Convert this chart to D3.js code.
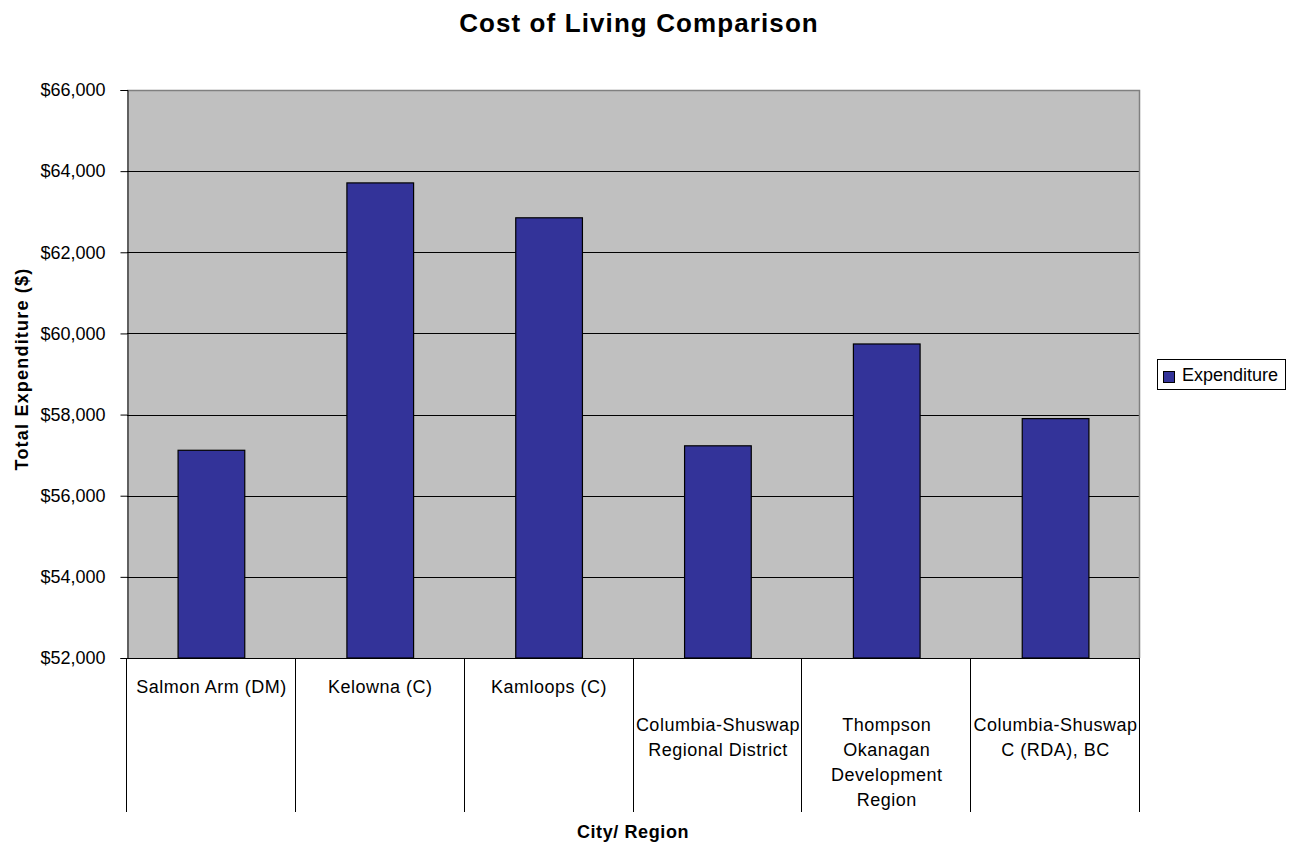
<!DOCTYPE html>
<html>
<head>
<meta charset="utf-8">
<script src="https://cdn.jsdelivr.net/npm/d3@7"></script>
<style>
  html, body { margin: 0; padding: 0; background: #fff; }
  svg { display: block; font-family: "Liberation Sans", Arial, sans-serif; }
</style>
</head>
<body>
<svg id="chart" width="1297" height="843"></svg>
<script>
const categories = [
  ["Salmon Arm (DM)"],
  ["Kelowna (C)"],
  ["Kamloops (C)"],
  ["Columbia-Shuswap", "Regional District"],
  ["Thompson", "Okanagan", "Development", "Region"],
  ["Columbia-Shuswap", "C (RDA), BC"]
];
const seriesName = "Expenditure";
const expenditure = [57120, 63710, 62850, 57230, 59740, 57900];
const yTicks = [52000, 54000, 56000, 58000, 60000, 62000, 64000, 66000];

const svg = d3.select("#chart");
const plot = { left: 127, top: 90, right: 1140, bottom: 658 };
const catBottom = 812;

const keys = categories.map((c, i) => i);
const x = d3.scaleBand().domain(keys).range([plot.left, plot.right]).paddingInner(0).paddingOuter(0);
const y = d3.scaleLinear().domain([52000, 66000]).range([plot.bottom, plot.top]);

// plot background
svg.append("rect")
  .attr("x", plot.left).attr("y", plot.top)
  .attr("width", plot.right - plot.left).attr("height", plot.bottom - plot.top)
  .attr("fill", "#c0c0c0");

// gridlines
svg.append("g").selectAll("line")
  .data(yTicks.filter(t => t !== 52000 && t !== 66000))
  .join("line")
  .attr("x1", plot.left).attr("x2", plot.right)
  .attr("y1", d => Math.round(y(d)) + 0.5).attr("y2", d => Math.round(y(d)) + 0.5)
  .attr("stroke", "#000").attr("stroke-width", 1);

// top and right border (gray)
svg.append("path")
  .attr("d", `M${plot.left},${plot.top + 0.5}H${plot.right - 0.5}V${plot.bottom}`)
  .attr("fill", "none").attr("stroke", "#808080").attr("stroke-width", 1.5);

// bars
const bw = x.bandwidth() * 0.395;
svg.append("g").selectAll("rect")
  .data(expenditure)
  .join("rect")
  .attr("x", (d, i) => x(i) + (x.bandwidth() - bw) / 2)
  .attr("y", d => y(d))
  .attr("width", bw)
  .attr("height", d => y(52000) - y(d))
  .attr("fill", "#333399")
  .attr("stroke", "#000").attr("stroke-width", 1.2);

// y axis
const yAxis = d3.axisLeft(y).tickValues(yTicks).tickSize(7).tickPadding(15)
  .tickFormat(d => "$" + d3.format(",")(d));
const ya = svg.append("g").attr("transform", `translate(${plot.left + 0.5},0)`).call(yAxis);
ya.select(".domain").attr("stroke", "#000");
ya.selectAll(".tick line").attr("stroke", "#000");
ya.selectAll(".tick text").attr("font-size", 18).attr("fill", "#000")
  .attr("font-family", "Liberation Sans, Arial, sans-serif");

// category axis: baseline and separators
svg.append("line")
  .attr("x1", plot.left).attr("x2", plot.right)
  .attr("y1", plot.bottom + 0.5).attr("y2", plot.bottom + 0.5)
  .attr("stroke", "#000");
const seps = keys.map(k => x(k)).concat([plot.right]);
svg.append("g").selectAll("line")
  .data(seps)
  .join("line")
  .attr("x1", d => Math.round(d) - 0.5).attr("x2", d => Math.round(d) - 0.5)
  .attr("y1", plot.bottom).attr("y2", catBottom)
  .attr("stroke", "#000");

// category labels (single-line labels sit near the axis, wrapped ones lower)
const lineH = 25;
const lab = svg.append("g").selectAll("text")
  .data(categories)
  .join("text")
  .attr("x", (d, i) => x(i) + x.bandwidth() / 2)
  .attr("y", d => d.length === 1 ? plot.bottom + 35 : plot.bottom + 73)
  .attr("text-anchor", "middle")
  .attr("font-size", 18).attr("letter-spacing", 0.5).attr("fill", "#000");
lab.selectAll("tspan")
  .data(d => d)
  .join("tspan")
  .attr("x", function () { return d3.select(this.parentNode).attr("x"); })
  .attr("dy", (d, i) => i === 0 ? 0 : lineH)
  .text(d => d);

// title
svg.append("text")
  .attr("x", 639).attr("y", 32)
  .attr("text-anchor", "middle")
  .attr("font-size", 26).attr("font-weight", "bold").attr("letter-spacing", 1.1)
  .text("Cost of Living Comparison");

// axis titles
svg.append("text")
  .attr("transform", "translate(28,369) rotate(-90)")
  .attr("text-anchor", "middle")
  .attr("font-size", 18).attr("font-weight", "bold").attr("letter-spacing", 1.2)
  .text("Total Expenditure ($)");
svg.append("text")
  .attr("x", 633).attr("y", 838)
  .attr("text-anchor", "middle")
  .attr("font-size", 18).attr("font-weight", "bold").attr("letter-spacing", 0.6)
  .text("City/ Region");

// legend
const lg = svg.append("g").attr("transform", "translate(1157,359)");
lg.append("rect").attr("x", 0.5).attr("y", 0.5).attr("width", 128).attr("height", 30)
  .attr("fill", "#fff").attr("stroke", "#000");
lg.append("rect").attr("x", 6.5).attr("y", 12.5).attr("width", 11).attr("height", 11)
  .attr("fill", "#333399").attr("stroke", "#000");
lg.append("text").attr("x", 25).attr("y", 22)
  .attr("font-size", 18).text(seriesName);
</script>
</body>
</html>
